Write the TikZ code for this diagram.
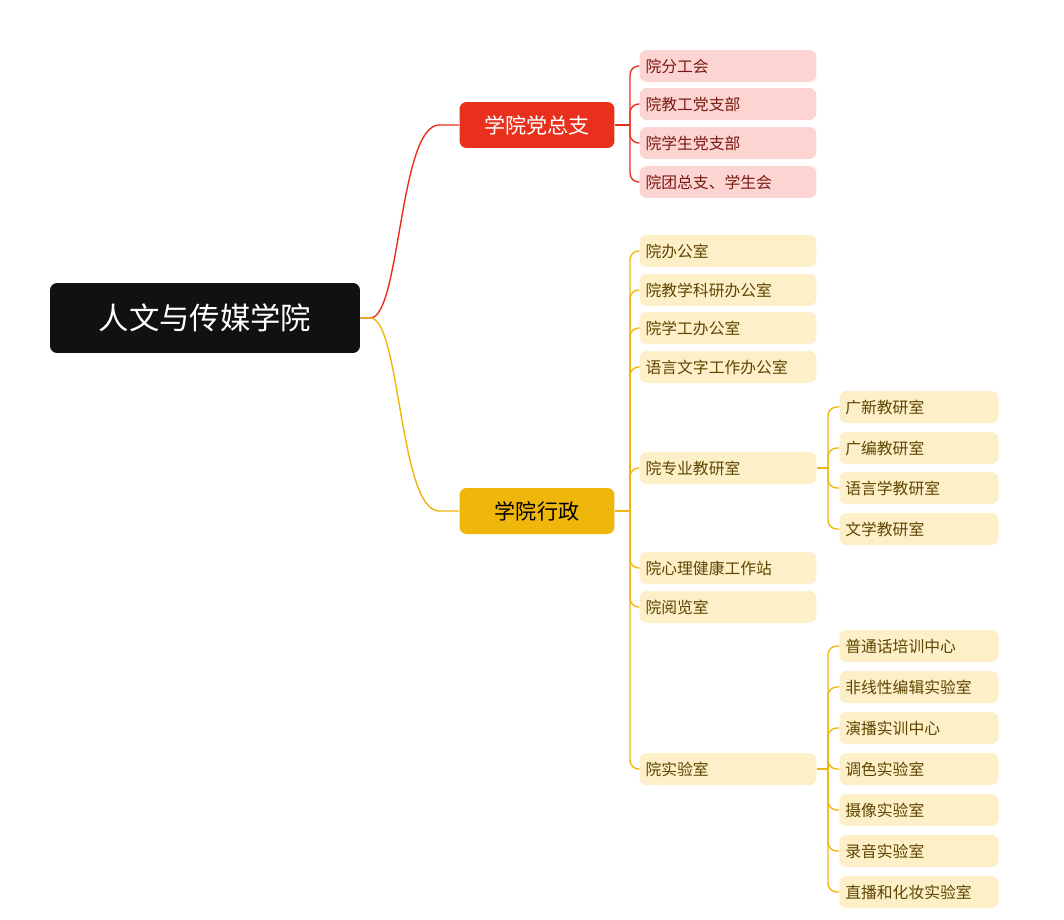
\documentclass[tikz,border=0pt]{standalone}
\usepackage{fontspec}
\setmainfont{Noto Sans CJK SC}
\usetikzlibrary{calc}
\definecolor{rootc}{HTML}{111111}
\definecolor{redc}{HTML}{E8301C}
\definecolor{yelc}{HTML}{EFB60C}
\definecolor{pinkc}{HTML}{FCD5D3}
\definecolor{creamc}{HTML}{FDF0C8}
\definecolor{redtxt}{HTML}{7A1A12}
\definecolor{yeltxt}{HTML}{5E4500}
\tikzset{
  leafr/.style={fill=pinkc,text=redtxt,rounded corners=4pt,minimum width=3.46cm,minimum height=0.64cm,text width=3.3cm,align=left,font=\small},
  leafy/.style={fill=creamc,text=yeltxt,rounded corners=4pt,minimum width=3.46cm,minimum height=0.64cm,text width=3.3cm,align=left,font=\small},
  leafs/.style={leafy,minimum width=3.1cm,text width=2.95cm},
  branch/.style={rounded corners=4pt,minimum width=3.1cm,minimum height=0.92cm,font=\large,text=white},
}
\begin{document}
\begin{tikzpicture}[x=0.02cm,y=-0.02cm]
  \useasboundingbox (0,0) rectangle (1064,919);
  % root and main branches
  \node[fill=rootc,text=white,rounded corners=4pt,minimum width=6.2cm,minimum height=1.4cm,font=\LARGE] (root) at (205,318) {人文与传媒学院};
  \node[branch,fill=redc] (party) at (537,125) {学院党总支};
  \node[branch,fill=yelc,text=black] (admin) at (537,511) {学院行政};
  \draw[redc,thick] (root.east) -- ++(10,0) .. controls +(30,0) and +(-40,0) .. ($(party.west)+(-20,0)$) -- (party.west);
  \draw[yelc,thick] (root.east) -- ++(10,0) .. controls +(30,0) and +(-40,0) .. ($(admin.west)+(-20,0)$) -- (admin.west);

  % party children
  \coordinate (pj) at (630,125);
  \draw[redc,thick] (party.east) -- (pj);
  \foreach \name/\y/\txt in {p1/66/院分工会,p2/104/院教工党支部,p3/143/院学生党支部,p4/182/院团总支、学生会}{
    \node[leafr] (\name) at (728,\y) {\txt};
    \draw[redc,thick,rounded corners=5pt] (pj) |- (\name.west);
  }

  % admin children
  \coordinate (aj) at (630,511);
  \draw[yelc,thick] (admin.east) -- (aj);
  \foreach \name/\y/\txt in {a1/251/院办公室,a2/290/院教学科研办公室,a3/328/院学工办公室,a4/367/语言文字工作办公室,a5/468/院专业教研室,a6/568/院心理健康工作站,a7/607/院阅览室,a8/769/院实验室}{
    \node[leafy] (\name) at (728,\y) {\txt};
    \draw[yelc,thick,rounded corners=5pt] (aj) |- (\name.west);
  }

  % teaching offices
  \coordinate (tj) at (828,468);
  \draw[yelc,thick] (a5.east) -- (tj);
  \foreach \name/\y/\txt in {t1/407/广新教研室,t2/448/广编教研室,t3/488/语言学教研室,t4/529/文学教研室}{
    \node[leafs] (\name) at (919,\y) {\txt};
    \draw[yelc,thick,rounded corners=5pt] (tj) |- (\name.west);
  }

  % labs
  \coordinate (lj) at (828,769);
  \draw[yelc,thick] (a8.east) -- (lj);
  \foreach \name/\y/\txt in {l1/646/普通话培训中心,l2/687/非线性编辑实验室,l3/728/演播实训中心,l4/769/调色实验室,l5/810/摄像实验室,l6/851/录音实验室,l7/892/直播和化妆实验室}{
    \node[leafs] (\name) at (919,\y) {\txt};
    \draw[yelc,thick,rounded corners=5pt] (lj) |- (\name.west);
  }
\end{tikzpicture}
\end{document}
